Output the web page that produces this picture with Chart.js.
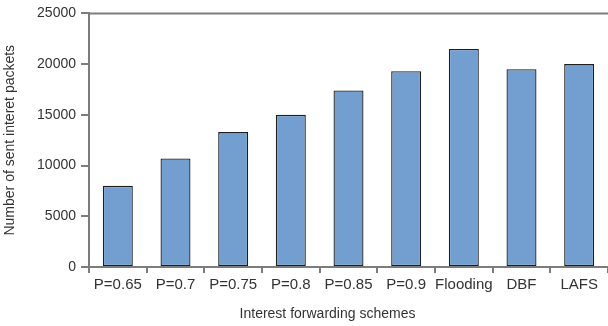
<!DOCTYPE html>
<html>
<head>
<meta charset="utf-8">
<script src="https://cdn.jsdelivr.net/npm/chart.js@4/dist/chart.umd.min.js"></script>
<style>
  html, body { margin: 0; padding: 0; background: #fff; }
  canvas { display: block; }
</style>
</head>
<body>
<canvas id="c" width="608" height="326"></canvas>
<script>
const categories = ["P=0.65", "P=0.7", "P=0.75", "P=0.8", "P=0.85", "P=0.9", "Flooding", "DBF", "LAFS"];
const sentPackets = [8000, 10700, 13300, 15000, 17400, 19300, 21500, 19500, 20000];
const yTicks = [0, 5000, 10000, 15000, 20000, 25000];
const xTitle = "Interest forwarding schemes";
const yTitle = "Number of sent interet packets";

const AXIS = "#7c7c7c";
const TEXT = "#333333";
const FONT = "'Liberation Sans', Arial, sans-serif";

const frameAndTitle = {
  id: "frameAndTitle",
  afterDraw(chart) {
    const { ctx, chartArea } = chart;
    ctx.save();
    ctx.strokeStyle = AXIS;
    ctx.lineWidth = 2;
    ctx.beginPath();
    ctx.moveTo(chartArea.left, chartArea.top);
    ctx.lineTo(chart.width, chartArea.top);
    ctx.stroke();
    ctx.fillStyle = TEXT;
    ctx.font = "14px " + FONT;
    ctx.textAlign = "center";
    ctx.textBaseline = "middle";
    ctx.fillText(xTitle, (chartArea.left + chartArea.right) / 2 - 21, 314);
    ctx.restore();
  }
};

new Chart(document.getElementById("c"), {
  type: "bar",
  data: {
    labels: categories,
    datasets: [{
      data: sentPackets,
      backgroundColor: "#729fcf",
      borderColor: "#1e1e1e",
      borderWidth: 1.3,
      borderSkipped: false,
      barPercentage: 0.52,
      categoryPercentage: 1.0
    }]
  },
  options: {
    responsive: false,
    animation: false,
    layout: { padding: { top: 13, right: 0, left: 0, bottom: 0 } },
    plugins: { legend: { display: false }, tooltip: { enabled: false } },
    scales: {
      x: {
        offset: true,
        grid: { display: true, drawOnChartArea: false, offset: true, tickLength: 6, color: AXIS, lineWidth: 2 },
        border: { display: true, color: AXIS, width: 2 },
        ticks: { color: TEXT, font: { family: FONT, size: 15 }, padding: 3, maxRotation: 0, autoSkip: false },
        afterFit(scale) { scale.height = 59; }
      },
      y: {
        min: 0,
        max: 25000,
        afterBuildTicks(scale) { scale.ticks = yTicks.map(v => ({ value: v })); },
        grid: { display: true, drawOnChartArea: false, tickLength: 8, color: AXIS, lineWidth: 2 },
        border: { display: true, color: AXIS, width: 2 },
        ticks: { color: TEXT, font: { family: FONT, size: 14 }, padding: 5, callback: v => String(v) },
        title: { display: true, text: yTitle, color: TEXT, font: { family: FONT, size: 14 }, padding: { top: 2, bottom: 0 } },
        afterFit(scale) { scale.width = 89; }
      }
    }
  },
  plugins: [frameAndTitle]
});
</script>
</body>
</html>
